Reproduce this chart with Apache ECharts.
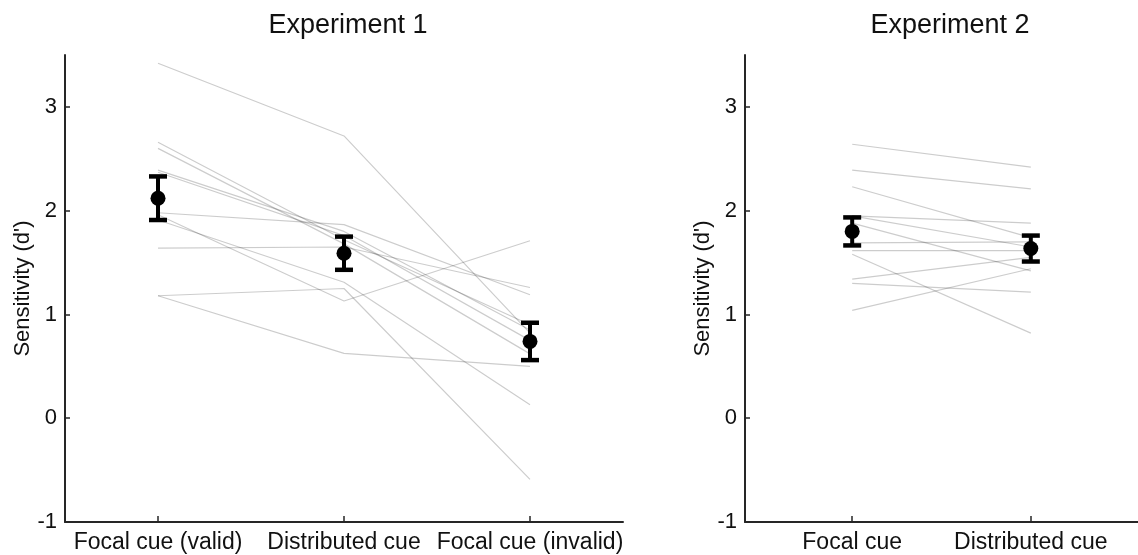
<!DOCTYPE html>
<html>
<head>
<meta charset="utf-8">
<script src="https://cdn.jsdelivr.net/npm/echarts@6/dist/echarts.min.js"></script>
<style>
  html, body { margin: 0; padding: 0; background: #fff; }
  #main { width: 1138px; height: 555px; }
</style>
</head>
<body>
<div id="main"></div>
<script>
// experiment 1: one value per subject per condition
var exp1Cats = ['Focal cue (valid)', 'Distributed cue', 'Focal cue (invalid)'];
var exp1Valid   = [3.42, 2.66, 2.60, 2.39, 2.37, 1.98, 1.96, 1.91, 1.64, 1.18, 1.18];
var exp1Dist    = [2.72, 1.72, 1.68, 1.80, 1.76, 1.865, 1.13, 1.31, 1.65, 1.25, 0.625];
var exp1Invalid = [0.82, 0.90, 0.62, 0.85, 0.75, 1.19, 1.71, 0.13, 1.26, -0.59, 0.50];
var exp1Mean = [2.12, 1.59, 0.74];
var exp1Err  = [0.21, 0.16, 0.18];

// experiment 2
var exp2Cats = ['Focal cue', 'Distributed cue'];
var exp2Focal = [2.64, 2.39, 2.23, 1.95, 1.95, 1.88, 1.69, 1.615, 1.58, 1.34, 1.30, 1.04];
var exp2Dist  = [2.42, 2.21, 1.74, 1.88, 1.65, 1.42, 1.70, 1.615, 0.82, 1.55, 1.215, 1.44];
var exp2Mean = [1.80, 1.635];
var exp2Err  = [0.135, 0.125];

var yTicks = [-1, 0, 1, 2, 3];

var ink = '#262626';
var font = 'Liberation Sans, Arial, Helvetica, sans-serif';

function xAxisFor(idx, cats, min, max) {
  var vals = cats.map(function (c, i) { return i + 1; });
  return {
    type: 'value', gridIndex: idx, min: min, max: max,
    splitLine: { show: false },
    axisLine: { show: true, onZero: false, lineStyle: { color: ink, width: 2 } },
    axisTick: { show: true, inside: true, length: 6, customValues: vals, lineStyle: { color: ink, width: 1.5 } },
    axisLabel: {
      customValues: vals, margin: 9, color: '#111', fontSize: 23, fontFamily: font,
      formatter: function (v) { return cats[Math.round(v) - 1] || ''; }
    }
  };
}

function yAxisFor(idx, gap) {
  return {
    type: 'value', gridIndex: idx, min: -1, max: 3.5,
    name: "Sensitivity (d')", nameLocation: 'middle', nameGap: gap, nameRotate: 90,
    nameTextStyle: { color: '#111', fontSize: 22, fontFamily: font },
    splitLine: { show: false },
    axisLine: { show: true, onZero: false, lineStyle: { color: ink, width: 2 } },
    axisTick: { show: true, inside: true, length: 5, customValues: yTicks, lineStyle: { color: ink, width: 1.5 } },
    axisLabel: { customValues: yTicks, margin: 8, color: '#111', fontSize: 22, fontFamily: font }
  };
}

function subjectLines(idx, cols) {
  var out = [];
  for (var s = 0; s < cols[0].length; s++) {
    var pts = cols.map(function (col, c) { return [c + 1, col[s]]; });
    out.push({
      type: 'line', xAxisIndex: idx, yAxisIndex: idx, data: pts,
      symbol: 'none', silent: true, z: 1,
      lineStyle: { color: 'rgba(0,0,0,0.2)', width: 1.2 }
    });
  }
  return out;
}

function errorBars(idx, mean, err) {
  return {
    type: 'custom', xAxisIndex: idx, yAxisIndex: idx, z: 5, silent: true,
    data: mean.map(function (m, i) { return [i + 1, m - err[i], m + err[i]]; }),
    renderItem: function (params, api) {
      var lo = api.coord([api.value(0), api.value(1)]);
      var hi = api.coord([api.value(0), api.value(2)]);
      var hw = 9;
      var st = { stroke: '#000', lineWidth: 4.5 };
      return {
        type: 'group',
        children: [
          { type: 'line', shape: { x1: lo[0], y1: lo[1], x2: hi[0], y2: hi[1] }, style: { stroke: '#000', lineWidth: 4 } },
          { type: 'line', shape: { x1: lo[0] - hw, y1: lo[1], x2: lo[0] + hw, y2: lo[1] }, style: st },
          { type: 'line', shape: { x1: hi[0] - hw, y1: hi[1], x2: hi[0] + hw, y2: hi[1] }, style: st }
        ]
      };
    }
  };
}

function meanDots(idx, mean) {
  return {
    type: 'scatter', xAxisIndex: idx, yAxisIndex: idx, z: 6, silent: true,
    data: mean.map(function (m, i) { return [i + 1, m]; }),
    symbol: 'circle', symbolSize: 15, itemStyle: { color: '#000', opacity: 1 }
  };
}

var chart = echarts.init(document.getElementById('main'), null, { renderer: 'canvas' });

chart.setOption({
  backgroundColor: '#fff',
  animation: false,
  title: [
    { text: 'Experiment 1', left: 343, top: 7, textAlign: 'center',
      textStyle: { fontSize: 27, fontWeight: 'normal', color: '#111', fontFamily: font } },
    { text: 'Experiment 2', left: 945, top: 7, textAlign: 'center',
      textStyle: { fontSize: 27, fontWeight: 'normal', color: '#111', fontFamily: font } }
  ],
  grid: [
    { left: 65, top: 55, width: 558, height: 467 },
    { left: 745, top: 55, width: 400, height: 467 }
  ],
  xAxis: [xAxisFor(0, exp1Cats, 0.5, 3.5), xAxisFor(1, exp2Cats, 0.4, 2.6)],
  yAxis: [yAxisFor(0, 20), yAxisFor(1, 29)],
  series: []
    .concat(subjectLines(0, [exp1Valid, exp1Dist, exp1Invalid]))
    .concat(subjectLines(1, [exp2Focal, exp2Dist]))
    .concat([errorBars(0, exp1Mean, exp1Err), meanDots(0, exp1Mean),
             errorBars(1, exp2Mean, exp2Err), meanDots(1, exp2Mean)])
});
</script>
</body>
</html>
